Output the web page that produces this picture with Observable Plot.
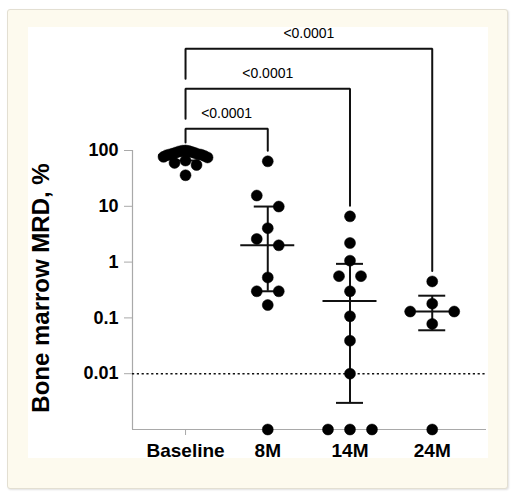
<!DOCTYPE html>
<html><head><meta charset="utf-8">
<script src="https://cdn.jsdelivr.net/npm/d3@7"></script>
<script src="https://cdn.jsdelivr.net/npm/@observablehq/plot@0.6"></script>
<style>
html,body{margin:0;padding:0;background:#fff;}
#wrap{position:relative;width:511px;height:500px;overflow:hidden;font-family:"Liberation Sans",Arial,sans-serif;}
#outer{position:absolute;left:7px;top:9px;width:501px;height:480px;background:#fdfaee;border:1px solid #e3dfd2;border-radius:3px;box-sizing:border-box;box-shadow:1px 1px 2px rgba(0,0,0,0.12);}
#inner{position:absolute;left:28px;top:27px;width:460px;height:431px;background:#fff;}
#chart{position:absolute;left:0;top:0;}
</style></head>
<body><div id="wrap"><div id="outer"></div><div id="inner"></div><div id="chart"></div></div>
<script>
// ---- data ----
const groups = ["Baseline", "8M", "14M", "24M"];
const baselineMRD = [100, 99, 98, 96, 94, 92, 90, 88, 86, 85, 84, 82, 80, 77, 75, 66, 60, 55, 36];
const m8MRD = [64, 15.6, 9.9, 4.05, 2.6, 2.0, 0.53, 0.3, 0.3, 0.17, 0];
const m14MRD = [6.6, 2.2, 1.06, 0.56, 0.56, 0.3, 0.107, 0.039, 0.01, 0, 0, 0];
const m24MRD = [0.45, 0.18, 0.13, 0.13, 0.078, 0];
const medians = [82, 2.0, 0.2, 0.13];
const lowerQ = [66, 0.3, 0.003, 0.06];
const upperQ = [92, 9.9, 0.93, 0.25];
const comparisons = [["Baseline", "8M", "<0.0001"], ["Baseline", "14M", "<0.0001"], ["Baseline", "24M", "<0.0001"]];
const yTicks = [100, 10, 1, 0.1, 0.01];
const yTickLabels = ["100", "10", "1", "0.1", "0.01"];
const thresholdMRD = 0.01;
const yLabel = "Bone marrow MRD, %";

// ---- layout ----
const W = 511, H = 500, mL = 132, mR = 25, mT = 150, mB = 71;
const xDomain = [-0.645, 3.66];
const yDomain = [0.001, 100];
const gray = "#a9a9a9";
const ink = "#111";
const R = 5.5;
const pxPerUnit = (W - mL - mR) / (xDomain[1] - xDomain[0]);
const yPx = d3.scaleLog().domain(yDomain).range([H - mB, mT]);
const series = [baselineMRD, m8MRD, m14MRD, m24MRD];

function centerOut(n) {
  const ks = [];
  if (n % 2) ks.push(0);
  for (let k = 1; ks.length < n; k++) { ks.push(-k); if (ks.length < n) ks.push(k); }
  return ks;
}

// scatter layout: group nearby values into rows and spread them horizontally
function layoutGroup(values, gi) {
  const pts = values.map(v => {
    const y = v > 0 ? v : yDomain[0];
    return {group: groups[gi], v, y, py: yPx(y)};
  }).sort((a, b) => b.v - a.v);
  const rows = [];
  for (const p of pts) {
    const last = rows[rows.length - 1];
    if (last && p.py - last[last.length - 1].py <= 11.5) last.push(p);
    else rows.push([p]);
  }
  for (const row of rows) {
    const n = row.length;
    if (n > 3) {
      // crowded: split into thin sub-rows, evenly spaced and centred
      const subs = [];
      for (const p of row) {
        const cur = subs[subs.length - 1];
        if (cur && p.py - cur[0].py <= 8) cur.push(p); else subs.push([p]);
      }
      for (const sub of subs) {
        const m = sub.length;
        const ks = centerOut(m);
        const sp = m > 1 ? Math.min(11, 44 / (m - 1)) : 0;
        const even = m % 2 === 0;
        sub.forEach((p, i) => {
          const k = ks[i];
          const pos = even ? (Math.sign(k) * (Math.abs(k) - 0.5)) * sp : k * sp;
          p.x = gi + pos / pxPerUnit;
        });
      }
      continue;
    }
    const ks = centerOut(n);
    let s = 11;
    for (; s <= 44; s += 11) {
      let ok = true;
      for (let i = 0; i < n; i++) for (let j = i + 1; j < n; j++) {
        const dx = (ks[i] - ks[j]) * s, dy = row[i].py - row[j].py;
        if (Math.hypot(dx, dy) < 14) ok = false;
      }
      if (ok) break;
    }
    const maxK = Math.max(...ks.map(Math.abs));
    if (maxK > 0 && s * maxK > 22) s = 22 / maxK;
    row.forEach((p, i) => { p.x = gi + ks[i] * s / pxPerUnit; });
  }
  return pts;
}
const points = series.flatMap((vals, gi) => layoutGroup(vals, gi));

const summary = groups.map((g, i) => ({i, med: medians[i], lo: lowerQ[i], hi: upperQ[i]}));
const medHalf = 27 / pxPerUnit, capHalf = 13.5 / pxPerUnit;

// significance brackets
const levelPx = k => 128.3 - 40 * k;
const brackets = [];
const bracketLabels = [];
comparisons.forEach(([a, b, label], k) => {
  const i0 = groups.indexOf(a), i1 = groups.indexOf(b);
  const top = yPx.invert(levelPx(k));
  const leftEnd = yPx.invert(k === 0 ? yPx(d3.max(series[i0])) - 8 : levelPx(k - 1) - 10);
  const rightEnd = yPx.invert(yPx(d3.max(series[i1])) - 10.5);
  brackets.push({id: k, x: i0, y: leftEnd}, {id: k, x: i0, y: top}, {id: k, x: i1, y: top}, {id: k, x: i1, y: rightEnd});
  bracketLabels.push({x: (i0 + i1) / 2, y: top, label});
});

const chart = Plot.plot({
  width: W, height: H,
  marginLeft: mL, marginRight: mR, marginTop: mT, marginBottom: mB,
  style: {fontFamily: "'Liberation Sans', Arial, sans-serif", background: "transparent", overflow: "visible", color: "#000"},
  x: {domain: xDomain},
  y: {type: "log", domain: yDomain},
  marks: [
    Plot.ruleY([yDomain[0]], {stroke: gray, strokeWidth: 1.2}),
    Plot.ruleX([xDomain[0]], {y1: yDomain[0], y2: yDomain[1], stroke: gray, strokeWidth: 1.2}),
    Plot.axisY(yTicks, {tickSize: 8, tickPadding: 6, stroke: gray, fontSize: 18, fontWeight: "bold",
      tickFormat: d => yTickLabels[yTicks.indexOf(d)], label: null}),
    Plot.axisX(d3.range(groups.length), {tickSize: 6, tickPadding: 8, stroke: gray, fontSize: 19, fontWeight: "bold",
      tickFormat: i => groups[i], label: null}),
    Plot.text([yLabel], {frameAnchor: "left", textAnchor: "middle", rotate: -90, dx: -91.5, dy: -2, fontSize: 24, fontWeight: "bold", text: d => d, fill: "#000"}),
    Plot.ruleY([thresholdMRD], {stroke: ink, strokeWidth: 1.6, strokeDasharray: "2.2,2.6"}),
    Plot.ruleX(summary, {x: "i", y1: "lo", y2: "hi", stroke: ink, strokeWidth: 2}),
    Plot.ruleY(summary, {y: "med", x1: d => d.i - medHalf, x2: d => d.i + medHalf, stroke: ink, strokeWidth: 2}),
    Plot.ruleY(summary, {y: "lo", x1: d => d.i - capHalf, x2: d => d.i + capHalf, stroke: ink, strokeWidth: 2}),
    Plot.ruleY(summary, {y: "hi", x1: d => d.i - capHalf, x2: d => d.i + capHalf, stroke: ink, strokeWidth: 2}),
    Plot.dot(points, {x: "x", y: "y", r: R, fill: "#000", stroke: "#000", strokeWidth: 0.5}),
    Plot.line(brackets, {x: "x", y: "y", z: "id", stroke: ink, strokeWidth: 2, strokeLinejoin: "miter"}),
    Plot.text(bracketLabels, {x: "x", y: "y", text: "label", dy: -15, fontSize: 14, fill: "#000"})
  ]
});
document.getElementById("chart").appendChild(chart);
</script>
</body></html>
